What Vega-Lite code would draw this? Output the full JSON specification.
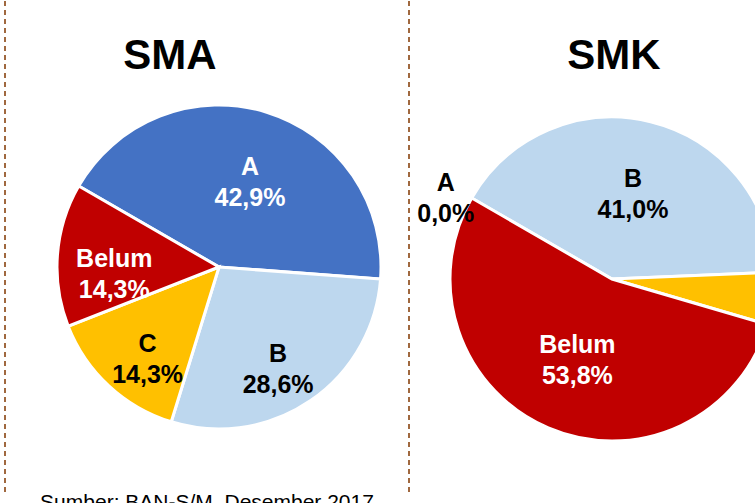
{
  "$schema": "https://vega.github.io/schema/vega-lite/v6.json",
  "width": 755,
  "height": 503,
  "autosize": {"type": "fit", "contains": "padding"},
  "padding": 0,
  "background": "white",
  "config": {"view": {"stroke": null}, "font": "Liberation Sans"},
  "datasets": {
    "sma": [
      {"sekolah": "SMA", "kategori": "A", "urut": 1, "nilai": 42.9, "label": "A\n42,9%"},
      {"sekolah": "SMA", "kategori": "B", "urut": 2, "nilai": 28.6, "label": "B\n28,6%"},
      {"sekolah": "SMA", "kategori": "C", "urut": 3, "nilai": 14.3, "label": "C\n14,3%"},
      {"sekolah": "SMA", "kategori": "Belum", "urut": 4, "nilai": 14.3, "label": "Belum\n14,3%"}
    ],
    "smk": [
      {"sekolah": "SMK", "kategori": "A", "urut": 1, "nilai": 0.0, "label": "A\n0,0%"},
      {"sekolah": "SMK", "kategori": "B", "urut": 2, "nilai": 41.0, "label": "B\n41,0%"},
      {"sekolah": "SMK", "kategori": "C", "urut": 3, "nilai": 5.2, "label": "C\n5,2%"},
      {"sekolah": "SMK", "kategori": "Belum", "urut": 4, "nilai": 53.8, "label": "Belum\n53,8%"}
    ],
    "garis": [{"garis": "kiri"}, {"garis": "tengah"}]
  },
  "layer": [
    {
      "data": {"name": "garis"},
      "mark": {"type": "rule", "color": "#A0683F", "strokeDash": [5, 4], "strokeWidth": 2},
      "encoding": {
        "x": {"field": "garis", "type": "nominal", "scale": {"type": "point", "domain": ["kiri", "tengah"], "range": [5, 409], "padding": 0}, "axis": null}
      }
    },
    {
      "data": {"name": "sma"},
      "encoding": {
        "x": {"datum": "SMA", "type": "nominal", "scale": {"type": "point", "domain": ["SMA", "SMK"], "range": [219, 612], "padding": 0}, "axis": null},
        "y": {"datum": "SMA", "type": "nominal", "scale": {"type": "point", "domain": ["SMA", "SMK"], "range": [266, 278], "padding": 0}, "axis": null}
      },
      "layer": [
        {
          "mark": {"type": "arc", "outerRadius": 162, "stroke": "white", "strokeWidth": 3},
          "encoding": {
            "theta": {"field": "nilai", "type": "quantitative", "stack": "normalize", "scale": {"domain": [0, 1], "range": [5.23599, 11.51917]}},
            "order": {"field": "urut", "type": "quantitative"},
            "color": {"field": "kategori", "type": "nominal", "scale": {"domain": ["A", "B", "C", "Belum"], "range": ["#4472C4", "#BDD7EE", "#FFC000", "#C00000"]}, "legend": null}
          }
        },
        {
          "mark": {"type": "text", "radius": 105, "fontSize": 25, "fontWeight": "bold", "lineBreak": "\n", "lineHeight": 31, "baseline": "middle", "align": "center"},
          "encoding": {
            "theta": {"field": "nilai", "type": "quantitative", "stack": "normalize", "scale": {"domain": [0, 1], "range": [5.23599, 11.51917]}},
            "order": {"field": "urut", "type": "quantitative"},
            "text": {"field": "label", "type": "nominal"},
            "fill": {"field": "kategori", "type": "nominal", "scale": {"domain": ["A", "B", "C", "Belum"], "range": ["white", "black", "black", "white"]}, "legend": null},
            "opacity": {"condition": {"test": "datum.nilai < 10", "value": 0}, "value": 1}
          }
        },
        {
          "data": {"values": [{"judul": "SMA"}]},
          "mark": {"type": "text", "fontSize": 42, "fontWeight": "bold", "baseline": "alphabetic", "align": "center", "dx": -49, "dy": -198.5, "fill": "black"},
          "encoding": {"text": {"field": "judul", "type": "nominal"}}
        },
        {
          "data": {"values": [{"sumber": "Sumber: BAN-S/M, Desember 2017"}]},
          "mark": {"type": "text", "fontSize": 21, "baseline": "alphabetic", "align": "center", "dx": -12, "dy": 242, "fill": "black"},
          "encoding": {"text": {"field": "sumber", "type": "nominal"}}
        }
      ]
    },
    {
      "data": {"name": "smk"},
      "encoding": {
        "x": {"datum": "SMK", "type": "nominal", "scale": {"type": "point", "domain": ["SMA", "SMK"], "range": [219, 612], "padding": 0}, "axis": null},
        "y": {"datum": "SMK", "type": "nominal", "scale": {"type": "point", "domain": ["SMA", "SMK"], "range": [266, 278], "padding": 0}, "axis": null}
      },
      "layer": [
        {
          "mark": {"type": "arc", "outerRadius": 162, "stroke": "white", "strokeWidth": 3},
          "encoding": {
            "theta": {"field": "nilai", "type": "quantitative", "stack": "normalize", "scale": {"domain": [0, 1], "range": [5.23599, 11.51917]}},
            "order": {"field": "urut", "type": "quantitative"},
            "color": {"field": "kategori", "type": "nominal", "scale": {"domain": ["A", "B", "C", "Belum"], "range": ["#4472C4", "#BDD7EE", "#FFC000", "#C00000"]}, "legend": null}
          }
        },
        {
          "mark": {"type": "text", "radius": 88, "dy": -15, "fontSize": 25, "fontWeight": "bold", "lineBreak": "\n", "lineHeight": 31, "baseline": "middle", "align": "center"},
          "encoding": {
            "theta": {"field": "nilai", "type": "quantitative", "stack": "normalize", "scale": {"domain": [0, 1], "range": [5.23599, 11.51917]}},
            "order": {"field": "urut", "type": "quantitative"},
            "text": {"field": "label", "type": "nominal"},
            "fill": {"field": "kategori", "type": "nominal", "scale": {"domain": ["A", "B", "C", "Belum"], "range": ["white", "black", "black", "white"]}, "legend": null},
            "opacity": {"condition": {"test": "datum.nilai < 10", "value": 0}, "value": 1}
          }
        },
        {
          "mark": {"type": "text", "radius": 192, "fontSize": 25, "fontWeight": "bold", "lineBreak": "\n", "lineHeight": 31, "baseline": "middle", "align": "center", "fill": "black"},
          "encoding": {
            "theta": {"field": "nilai", "type": "quantitative", "stack": "normalize", "scale": {"domain": [0, 1], "range": [5.23599, 11.51917]}},
            "order": {"field": "urut", "type": "quantitative"},
            "text": {"field": "label", "type": "nominal"},
            "opacity": {"condition": {"test": "datum.nilai >= 10", "value": 0}, "value": 1}
          }
        },
        {
          "data": {"values": [{"judul": "SMK"}]},
          "mark": {"type": "text", "fontSize": 42, "fontWeight": "bold", "baseline": "alphabetic", "align": "center", "dx": 2, "dy": -210.5, "fill": "black"},
          "encoding": {"text": {"field": "judul", "type": "nominal"}}
        }
      ]
    }
  ],
  "resolve": {"scale": {"x": "independent", "y": "independent", "theta": "independent", "color": "independent", "fill": "independent", "opacity": "independent"}}
}
